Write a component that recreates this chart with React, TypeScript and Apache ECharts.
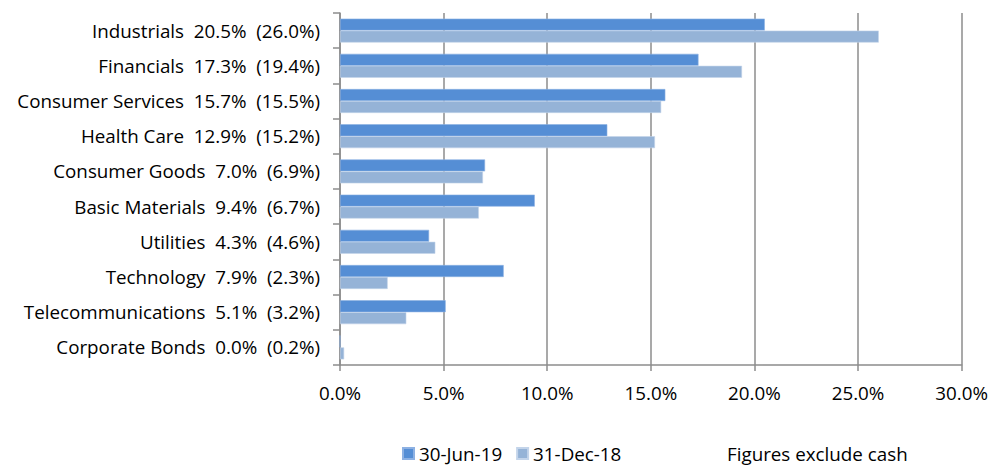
import React, { useEffect, useRef } from "react";
import * as echarts from "echarts";

const sectors = [
  "Industrials",
  "Financials",
  "Consumer Services",
  "Health Care",
  "Consumer Goods",
  "Basic Materials",
  "Utilities",
  "Technology",
  "Telecommunications",
  "Corporate Bonds",
];
const jun19 = [20.5, 17.3, 15.7, 12.9, 7.0, 9.4, 4.3, 7.9, 5.1, 0.0];
const dec18 = [26.0, 19.4, 15.5, 15.2, 6.9, 6.7, 4.6, 2.3, 3.2, 0.2];
const seriesNames = ["30-Jun-19", "31-Dec-18"];
const note = "Figures exclude cash";

const FONT = "'Open Sans', 'Noto Sans', sans-serif";
const FS = 18.8;

export default function App() {
  const ref = useRef<HTMLDivElement>(null);

  useEffect(() => {
    if (!ref.current) return;
    const chart = echarts.init(ref.current, undefined, { renderer: "svg" });
    const labels = sectors.map(
      (s, i) => `${s}  ${jun19[i].toFixed(1)}%  (${dec18[i].toFixed(1)}%)`
    );
    chart.setOption({
      animation: false,
      backgroundColor: "#ffffff",
      grid: { left: 340, right: 28, top: 13, bottom: 102, containLabel: false },
      legend: {
        data: seriesNames,
        left: 402,
        top: 444,
        padding: 0,
        icon: "rect",
        itemWidth: 11,
        itemHeight: 11,
        itemGap: 14,
        textStyle: { fontFamily: FONT, fontSize: FS, color: "#000", lineHeight: 19 },
      },
      xAxis: {
        type: "value",
        min: 0,
        max: 30,
        interval: 5,
        axisLine: { show: true, lineStyle: { color: "#8c8c8c", width: 1.5 } },
        axisTick: { show: true, length: 6, lineStyle: { color: "#8c8c8c", width: 1.5 } },
        splitLine: { show: true, lineStyle: { color: "#8c8c8c", width: 1.5 } },
        axisLabel: {
          formatter: (v: number) => `${v.toFixed(1)}%`,
          fontFamily: FONT,
          fontSize: FS,
          color: "#000",
          margin: 18,
        },
      },
      yAxis: {
        type: "category",
        data: labels,
        inverse: true,
        axisLine: { show: true, lineStyle: { color: "#8c8c8c", width: 1.5 } },
        axisTick: { show: true, length: 7, lineStyle: { color: "#8c8c8c", width: 1.5 } },
        axisLabel: {
          fontFamily: FONT,
          fontSize: FS,
          color: "#000",
          margin: 20,
        },
      },
      series: [
        {
          name: seriesNames[0],
          type: "bar",
          data: jun19,
          barGap: "0%",
          barCategoryGap: "32%",
          itemStyle: { color: "#558ed5", borderColor: "#8db1e3", borderWidth: 0.6 },
        },
        {
          name: seriesNames[1],
          type: "bar",
          data: dec18,
          barGap: "0%",
          barCategoryGap: "32%",
          itemStyle: { color: "#95b3d7", borderColor: "#c3d4ea", borderWidth: 0.6 },
        },
      ],
      graphic: [
        {
          type: "text",
          left: 727,
          top: 444,
          style: { text: note, fontFamily: FONT, fontSize: FS, fill: "#000" },
        },
      ],
    });
    return () => chart.dispose();
  }, []);

  return (
    <div
      ref={ref}
      style={{ position: "absolute", left: 0, top: 0, width: 991, height: 467 }}
    />
  );
}
